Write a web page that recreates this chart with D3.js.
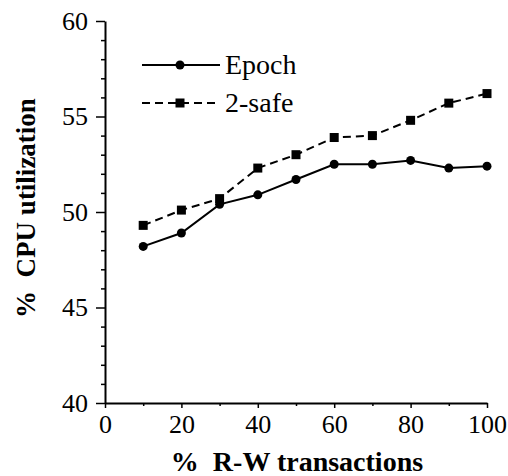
<!DOCTYPE html>
<html>
<head>
<meta charset="utf-8">
<script src="https://cdn.jsdelivr.net/npm/d3@7"></script>
</head>
<body style="margin:0">
<svg id="chart" width="508" height="476" font-family="Liberation Serif"></svg>
<script>
const rwPercent = [10, 20, 30, 40, 50, 60, 70, 80, 90, 100];
const epoch = [48.2, 48.9, 50.4, 50.9, 51.7, 52.5, 52.5, 52.7, 52.3, 52.4];
const twoSafe = [49.3, 50.1, 50.7, 52.3, 53.0, 53.9, 54.0, 54.8, 55.7, 56.2];
const xTicks = [0, 20, 40, 60, 80, 100];
const yTicks = [40, 45, 50, 55, 60];

const FONT = '"Liberation Serif"';
const W = 508, H = 476;
const margin = { left: 105, top: 21, right: 21, bottom: 73 };

const svg = d3.select("#chart");

const x = d3.scaleLinear().domain([0, 100]).range([margin.left, W - margin.right]);
const y = d3.scaleLinear().domain([40, 60]).range([H - margin.bottom, margin.top]);

// minor ticks first
svg.append("g")
  .attr("transform", `translate(0,${y(40)})`)
  .call(d3.axisBottom(x).tickValues(d3.range(10, 100, 20)).tickSize(3).tickFormat(""))
  .call(g => g.select(".domain").remove());

svg.append("g")
  .attr("transform", `translate(${x(0)},0)`)
  .call(d3.axisLeft(y).tickValues(d3.range(40, 61).filter(v => v % 5 !== 0)).tickSize(4).tickFormat(""))
  .call(g => g.select(".domain").remove());

const xAxis = svg.append("g")
  .attr("transform", `translate(0,${y(40)})`)
  .call(d3.axisBottom(x).tickValues(xTicks).tickSize(5).tickSizeOuter(0).tickPadding(7));

const yAxis = svg.append("g")
  .attr("transform", `translate(${x(0)},0)`)
  .call(d3.axisLeft(y).tickValues(yTicks).tickSize(9).tickSizeOuter(0).tickPadding(8));

svg.selectAll("g").attr("font-family", null).attr("font-size", null);
svg.selectAll(".tick line").attr("stroke-width", 1.5);
svg.selectAll(".domain").attr("stroke-width", 2);
[xAxis, yAxis].forEach(a => a.selectAll("text")
  .style("font-family", FONT)
  .style("font-size", "26px"));

// lines
const line = d3.line().x((d, i) => x(rwPercent[i])).y(d => y(d));

svg.append("path")
  .datum(epoch)
  .attr("d", line)
  .attr("fill", "none")
  .attr("stroke", "#000")
  .attr("stroke-width", 2);

svg.append("path")
  .datum(twoSafe)
  .attr("d", line)
  .attr("fill", "none")
  .attr("stroke", "#000")
  .attr("stroke-width", 2)
  .attr("stroke-dasharray", "8,5");

svg.selectAll("circle.epoch")
  .data(epoch)
  .enter()
  .append("circle")
  .attr("class", "epoch")
  .attr("cx", (d, i) => x(rwPercent[i]))
  .attr("cy", d => y(d))
  .attr("r", 4.5)
  .attr("fill", "#000");

svg.selectAll("rect.safe")
  .data(twoSafe)
  .enter()
  .append("rect")
  .attr("class", "safe")
  .attr("x", (d, i) => x(rwPercent[i]) - 4.5)
  .attr("y", d => y(d) - 4.5)
  .attr("width", 9)
  .attr("height", 9)
  .attr("fill", "#000");

// legend
const legend = svg.append("g");
const legendItems = [
  { label: "Epoch", dash: null, marker: "circle", ly: 65 },
  { label: "2-safe", dash: "8,5", marker: "square", ly: 103 }
];
legendItems.forEach(item => {
  legend.append("line")
    .attr("x1", 142).attr("x2", 220)
    .attr("y1", item.ly).attr("y2", item.ly)
    .attr("stroke", "#000")
    .attr("stroke-width", 2)
    .attr("stroke-dasharray", item.dash);
  if (item.marker === "circle") {
    legend.append("circle").attr("cx", 180).attr("cy", item.ly).attr("r", 4.5).attr("fill", "#000");
  } else {
    legend.append("rect").attr("x", 175.5).attr("y", item.ly - 4.5).attr("width", 9).attr("height", 9).attr("fill", "#000");
  }
  legend.append("text")
    .attr("x", 225)
    .attr("y", item.ly + 9)
    .style("font-family", FONT)
    .style("font-size", "28px")
    .text(item.label);
});

// axis titles
svg.append("text")
  .attr("x", 297)
  .attr("y", 471)
  .attr("text-anchor", "middle")
  .style("font-family", FONT)
  .style("font-size", "28px")
  .style("font-weight", "bold")
  .style("white-space", "pre")
  .text("%  R-W transactions");

svg.append("text")
  .attr("transform", "translate(35,208) rotate(-90)")
  .attr("text-anchor", "middle")
  .style("font-family", FONT)
  .style("font-size", "27px")
  .style("font-weight", "bold")
  .style("white-space", "pre")
  .text("%  CPU utilization");
</script>
</body>
</html>
